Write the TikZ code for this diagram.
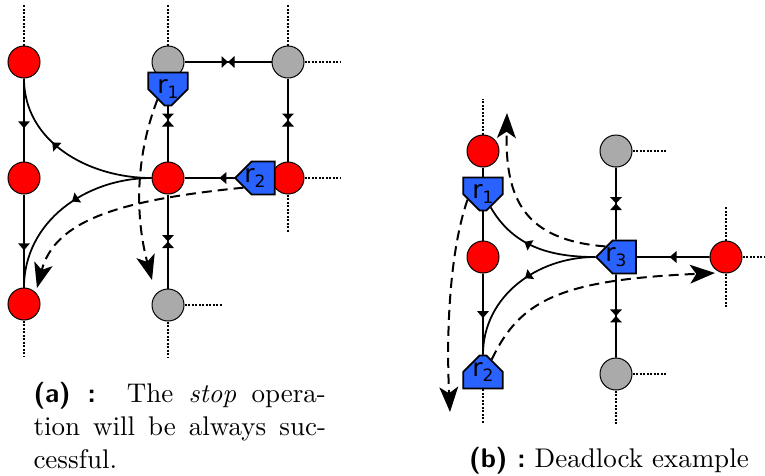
\documentclass[tikz,border=0pt]{standalone}
\usepackage{fontspec}
\usetikzlibrary{arrows.meta,decorations.markings,shapes.misc}

\newfontfamily\robotfont{DejaVu Sans}
\definecolor{robotblue}{RGB}{41,98,255}
\definecolor{freegray}{RGB}{170,170,170}

\newcommand\robotname[1]{\robotfont\fontsize{10}{10}\selectfont r\raisebox{-1.8pt}{\fontsize{6.8}{7}\selectfont #1}}
\newcommand\sublabel[1]{\textsf{\bfseries (#1) :}}

\tikzset{
  place/.style={circle,draw=black,line width=0.4pt,minimum size=12.8pt,inner sep=0pt},
  busy/.style={place,fill=red},
  free/.style={place,fill=freegray},
  robot/.style={chamfered rectangle,chamfered rectangle corners={#1},
    chamfered rectangle xsep=3.9pt,draw=black,line width=0.7pt,fill=robotblue,
    minimum width=13.2pt,minimum height=13.2pt,inner sep=0pt},
  track/.style={line width=0.7pt},
  oneway/.style={decoration={markings,
      mark=at position #1 with {\arrow{Triangle[width=4.6pt,length=2.8pt]}}},
    postaction={decorate}},
  oneway/.default=0.55,
  twoway/.style={decoration={markings,
      mark=at position 0.5 with {\arrow{Triangle[width=4.6pt,length=2.6pt]}%
        \arrowreversed{Triangle[width=4.6pt,length=2.6pt]}}},
    postaction={decorate}},
  stub/.style={line width=0.8pt,dash pattern=on 0.8pt off 0.6pt},
  move/.style={line width=0.8pt,dash pattern=on 4pt off 2.4pt,
    -{Stealth[length=10pt,width=7.5pt,inset=2.5pt]}},
  caption/.style={inner sep=0pt,font=\fontsize{10.8}{13.2}\selectfont}
}

\begin{document}
\begin{tikzpicture}[x=0.4pt,y=0.4pt]
  \useasboundingbox (0,0) rectangle (765,-475);

  % (a) places
  \node[busy] (a1) at (24,-62) {};
  \node[busy] (a2) at (24,-178) {};
  \node[busy] (a3) at (24,-304) {};
  \node[free] (a4) at (168,-62) {};
  \node[free] (a5) at (288,-62) {};
  \node[busy] (a6) at (168,-178) {};
  \node[busy] (a7) at (288,-178) {};
  \node[free] (a8) at (168,-305) {};

  % (b) places
  \node[busy] (b1) at (483,-151) {};
  \node[busy] (b2) at (483,-257) {};
  \node[free] (b3) at (616,-151) {};
  \node[busy] (b4) at (726,-257) {};
  \node[free] (b5) at (616,-374) {};

  % tracks running under the robots
  \draw[track,twoway] (a6) -- (a4);
  \draw[track,oneway=0.6] (a7) -- (a6);
  \draw[track] (b1) -- (b2);

  % robots
  \node[robot={south west,south east}] (r1a) at (168,-89) {\robotname{1}};
  \node[robot={north west,south west}] (r2a) at (255,-178) {\robotname{2}};
  \node[robot={south west,south east}] (r1b) at (483,-194) {\robotname{1}};
  \node[robot={north west,north east}] (r2b) at (483,-372) {\robotname{2}};
  \node[robot={north west,south west}] (r3b) at (616,-257) {\robotname{3}};

  % (a) tracks
  \draw[track,oneway=0.6] (a1) -- (a2);
  \draw[track,oneway=0.6] (a2) -- (a3);
  \draw[track,twoway] (a4) -- (a5);
  \draw[track,twoway] (a5) -- (a7);
  \draw[track,twoway] (a6) -- (a8);
  \draw[track,oneway=0.6] (a6) to[out=180,in=-90] (a1);
  \draw[track,oneway=0.45] (a6) to[out=180,in=90] (a3);

  % (b) tracks
  \draw[track,oneway] (b2) -- (r2b);
  \draw[track,twoway] (b3) -- (r3b);
  \draw[track,twoway] (r3b) -- (b5);
  \draw[track,oneway] (b4) -- (r3b);
  \draw[track,oneway=0.6] (r3b) to[out=180,in=-60] (r1b);
  \draw[track,oneway=0.45] (r3b) to[out=180,in=90] (r2b);

  % dotted ends of the grid
  \foreach \p/\d/\l in {a1/90/41, a3/-90/36, a4/90/41, a5/90/41, a5/0/36,
      a7/0/36, a7/-90/38, a8/0/38, a8/-90/36,
      b1/90/36, b3/0/34, b4/90/34, b4/0/34, b4/-90/34,
      r2b/-90/34, b5/0/34, b5/-90/34}
    \draw[stub] (\p.\d) -- ++(\d:\l);

  % planned moves
  \coordinate (ma1) at (152,-280);
  \coordinate (ma2) at (37,-288);
  \coordinate (mb1) at (507,-113);
  \coordinate (mb2) at (450,-412);
  \coordinate (mb3) at (715,-273);
  \draw[move] (r1a.225) .. controls (134,-160) and (136,-220) .. (ma1);
  \draw[move] (r2a.220) .. controls (120,-200) and (55,-220) .. (ma2);
  \draw[move] (r3b.135) .. controls (525,-240) and (505,-200) .. (mb1);
  \draw[move] (r1b.200) .. controls (450,-250) and (446,-330) .. (mb2);
  \draw[move] (r2b.55) .. controls (520,-300) and (560,-280) .. (mb3);

  % captions
  \node[caption,text width=117pt,align=justify,anchor=north west] (capa) at (33,-382)
    {\sublabel{a}\ \ The \textit{stop} opera-\linebreak tion will be always suc-\linebreak cessful.};
  \node[caption,anchor=base] (capb) at (609,-467) {\sublabel{b}\ Deadlock example};
\end{tikzpicture}
\end{document}
